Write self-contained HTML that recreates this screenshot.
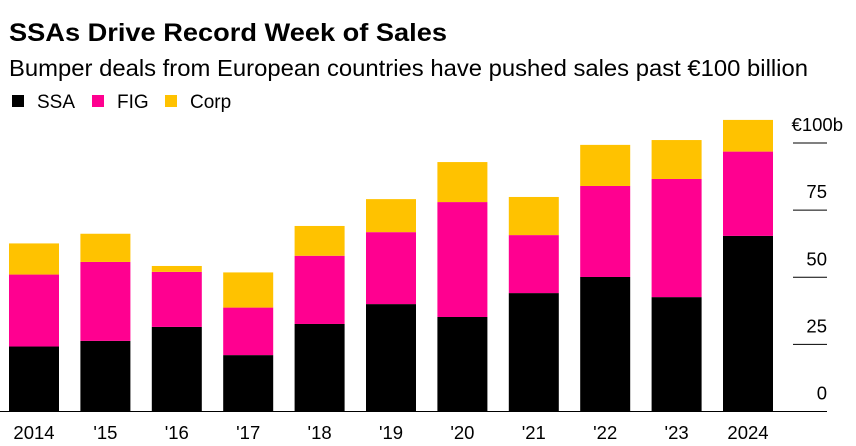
<!DOCTYPE html>
<html><head><meta charset="utf-8"><style>
body{margin:0;background:#fff;font-family:"Liberation Sans",Arial,sans-serif;}
svg text{font-family:"Liberation Sans",Arial,sans-serif;}
</style></head><body>
<svg width="856" height="441" xmlns="http://www.w3.org/2000/svg">
<text x="9" y="41" font-size="25" font-weight="bold" fill="#000" textLength="438" lengthAdjust="spacingAndGlyphs">SSAs Drive Record Week of Sales</text>
<text x="9" y="76" font-size="23" fill="#000" textLength="799" lengthAdjust="spacingAndGlyphs">Bumper deals from European countries have pushed sales past €100 billion</text>
<g>
<rect x="12" y="95" width="12" height="12" fill="#000"/>
<text x="37" y="108" font-size="19">SSA</text>
<rect x="92" y="95" width="12" height="12" fill="#ff0090"/>
<text x="117" y="108" font-size="19">FIG</text>
<rect x="165" y="95" width="12" height="12" fill="#ffc200"/>
<text x="190" y="108" font-size="19">Corp</text>
</g>
<g id="plot"></g>
</svg>
<script>
const categories=["2014","'15","'16","'17","'18","'19","'20","'21","'22","'23","2024"];
const ssa=[24.2,26.3,31.5,21.0,32.6,40.0,35.2,44.1,50.1,42.6,65.4];
const fig=[26.8,29.4,20.5,17.7,25.4,26.8,42.8,21.6,33.9,44.0,31.4];
const corp=[11.6,10.5,2.2,13.1,11.1,12.3,14.9,14.2,15.3,14.5,11.8];
const tickValues=[0,25,50,75,100];
const tickLabels=["0","25","50","75","€100b"];
const NS="http://www.w3.org/2000/svg";
const g=document.getElementById('plot');
const y0=411.5,pxPer=2.685;
function yScale(v){return y0-v*pxPer;}
function xCenter(i){return 34+i*71.4;}
const bw=50;
function mk(tag,attrs){const e=document.createElementNS(NS,tag);for(const k in attrs)e.setAttribute(k,attrs[k]);g.appendChild(e);return e;}
categories.forEach((c,i)=>{
  const segs=[[ssa[i],'#000','ssa'],[fig[i],'#ff0090','fig'],[corp[i],'#ffc200','corp']];
  let base=0;
  segs.forEach(s=>{
    const r=mk('rect',{x:xCenter(i)-bw/2,y:yScale(base+s[0]),width:bw,height:s[0]*pxPer,fill:s[1]});
    
    
    base+=s[0];
  });
  const t=mk('text',{x:xCenter(i),y:439,'font-size':18.5,'text-anchor':'middle'});
  t.textContent=c;
  
  
});
const bl=mk('line',{x1:0,x2:827,y1:y0,y2:y0,stroke:'#000','stroke-width':1});


tickValues.forEach((v,i)=>{
  if(v>0){
    const l=mk('line',{x1:793,x2:827,y1:yScale(v),y2:yScale(v),stroke:'#000','stroke-width':1});
    
    
  }
  const t=mk('text',{x:v===100?843:827,y:yScale(v)-12,'font-size':18.5,'text-anchor':'end'});
  t.textContent=tickLabels[i];
  
  
});
</script>
</body></html>
